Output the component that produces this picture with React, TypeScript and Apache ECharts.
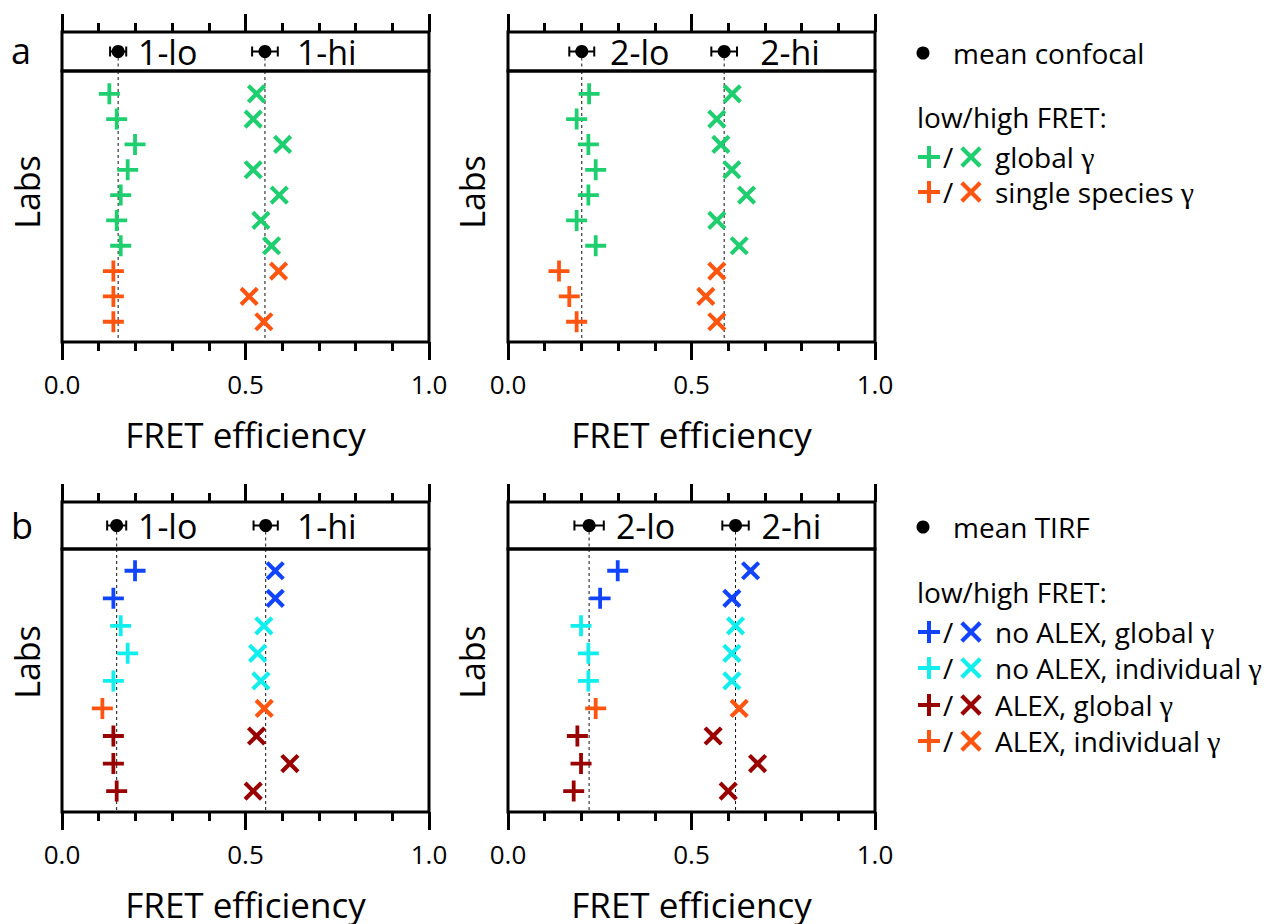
import React, { useEffect, useRef } from "react";
import * as echarts from "echarts";

// ---------- data ----------
const xTicks = ["0.0", "0.5", "1.0"];

// panel a (confocal): 10 labs
const aRowTypes = ["g", "g", "g", "g", "g", "g", "g", "s", "s", "s"];
const a1Lo = [0.129, 0.149, 0.199, 0.179, 0.16, 0.149, 0.16, 0.14, 0.14, 0.14];
const a1Hi = [0.53, 0.521, 0.601, 0.521, 0.592, 0.542, 0.571, 0.59, 0.51, 0.55];
const a2Lo = [0.221, 0.187, 0.219, 0.239, 0.219, 0.187, 0.239, 0.139, 0.167, 0.187];
const a2Hi = [0.611, 0.569, 0.58, 0.61, 0.65, 0.569, 0.63, 0.569, 0.539, 0.569];

// panel b (TIRF): 9 labs
const bRowTypes = ["nb", "nb", "ni", "ni", "ni", "ai", "ag", "ag", "ag"];
const b1Lo = [0.199, 0.14, 0.16, 0.179, 0.14, 0.11, 0.14, 0.14, 0.149];
const b1Hi = [0.581, 0.581, 0.55, 0.533, 0.542, 0.551, 0.53, 0.621, 0.521];
const b2Lo = [0.299, 0.251, 0.199, 0.219, 0.219, 0.239, 0.189, 0.199, 0.179];
const b2Hi = [0.661, 0.61, 0.62, 0.61, 0.61, 0.63, 0.559, 0.68, 0.6];

// means with errors
const a1Means = [0.153, 0.553];
const a1Errs = [0.022, 0.035];
const a2Means = [0.201, 0.589];
const a2Errs = [0.034, 0.035];
const b1Means = [0.149, 0.555];
const b1Errs = [0.026, 0.033];
const b2Means = [0.221, 0.62];
const b2Errs = [0.04, 0.036];

const names1 = ["1-lo", "1-hi"];
const names2 = ["2-lo", "2-hi"];
const a1LabelX = [0.207, 0.64];
const a2LabelX = [0.278, 0.687];
const b1LabelX = [0.207, 0.64];
const b2LabelX = [0.294, 0.691];

const typeColors: Record<string, string> = {
  g: "#1fcf6f",
  s: "#ff5511",
  nb: "#1144ff",
  ni: "#11eeee",
  ag: "#990000",
  ai: "#ff5511",
};

const legendA = [
  { t: "g", text: "global " },
  { t: "s", text: "single species " },
];
const legendB = [
  { t: "nb", text: "no ALEX, global " },
  { t: "ni", text: "no ALEX, individual " },
  { t: "ag", text: "ALEX, global " },
  { t: "ai", text: "ALEX, individual " },
];

// ---------- styling ----------
const FONT = "'Open Sans', 'Noto Sans', sans-serif";
const SERIF = "'Liberation Serif', 'DejaVu Serif', serif";
const PLUS =
  "path://M-1.8,-10L1.8,-10L1.8,-1.8L10,-1.8L10,1.8L1.8,1.8L1.8,10L-1.8,10L-1.8,1.8L-10,1.8L-10,-1.8L-1.8,-1.8Z";

const PANEL_W = 367;
const lefts = [62, 508];

function makeXAxis(gridIndex: number, main: boolean) {
  return {
    type: "value",
    gridIndex,
    min: 0,
    max: 1,
    interval: 0.5,
    position: main ? "bottom" : "top",
    axisLine: { show: false, onZero: false },
    axisTick: { show: true, inside: false, length: 18, lineStyle: { color: "#000", width: 3 } },
    minorTick: { show: true, splitNumber: 5, length: 9, lineStyle: { color: "#000", width: 3 } },
    splitLine: { show: false },
    minorSplitLine: { show: false },
    axisLabel: main
      ? {
          show: true,
          margin: 29,
          fontSize: 26,
          fontFamily: FONT,
          color: "#000",
          formatter: (v: number) => xTicks[Math.round(v * 2)] ?? "",
        }
      : { show: false },
    name: main ? "FRET efficiency" : "",
    nameLocation: "middle",
    nameGap: 75,
    nameTextStyle: { fontSize: 35, fontFamily: FONT, color: "#000" },
  };
}

function panelSeries(
  gStrip: number,
  gMain: number,
  means: number[],
  errs: number[],
  names: string[],
  labelX: number[],
  lo: number[],
  hi: number[],
  types: string[],
  rowMin: number,
  rowMax: number
) {
  const series: any[] = [];
  const axS = { xAxisIndex: gStrip, yAxisIndex: gStrip };
  const axM = { xAxisIndex: gMain, yAxisIndex: gMain };
  means.forEach((m) => {
    series.push({
      type: "line",
      ...axS,
      data: [
        [m, 0.5],
        [m, 0],
      ],
      symbol: "none",
      lineStyle: { color: "#111", width: 1, type: [3, 3] },
      z: 1,
      silent: true,
    });
    series.push({
      type: "line",
      ...axM,
      data: [
        [m, rowMin],
        [m, rowMax],
      ],
      symbol: "none",
      lineStyle: { color: "#111", width: 1, type: [3, 3] },
      z: 1,
      silent: true,
    });
  });
  // error bars
  series.push({
    type: "custom",
    ...axS,
    data: means.map((m, i) => [m, errs[i]]),
    renderItem: (params: any, api: any) => {
      const x = api.value(0);
      const e = api.value(1);
      const l = api.coord([x - e, 0.5]);
      const r = api.coord([x + e, 0.5]);
      const st = { stroke: "#000", lineWidth: 2 };
      return {
        type: "group",
        children: [
          { type: "line", shape: { x1: l[0], y1: l[1], x2: r[0], y2: r[1] }, style: st },
          { type: "line", shape: { x1: l[0], y1: l[1] - 5, x2: l[0], y2: l[1] + 5 }, style: st },
          { type: "line", shape: { x1: r[0], y1: r[1] - 5, x2: r[0], y2: r[1] + 5 }, style: st },
        ],
      };
    },
    z: 3,
  });
  series.push({
    type: "scatter",
    ...axS,
    data: means.map((m) => [m, 0.5]),
    symbol: "circle",
    symbolSize: 13,
    itemStyle: { color: "#000", opacity: 1 },
    z: 4,
  });
  // strip labels
  series.push({
    type: "custom",
    ...axS,
    data: labelX.map((x, i) => [x, 0.5, i]),
    renderItem: (params: any, api: any) => {
      const p = api.coord([api.value(0), api.value(1)]);
      return {
        type: "text",
        x: p[0],
        y: p[1],
        style: {
          text: names[api.value(2)],
          fontSize: 34,
          fontFamily: FONT,
          fill: "#000",
          align: "left",
          verticalAlign: "middle",
        },
      };
    },
    z: 4,
  });
  // markers grouped by type
  const uniq = Array.from(new Set(types));
  uniq.forEach((t) => {
    const loData: number[][] = [];
    const hiData: number[][] = [];
    types.forEach((tt, i) => {
      if (tt === t) {
        loData.push([lo[i], i + 1]);
        hiData.push([hi[i], i + 1]);
      }
    });
    series.push({
      type: "scatter",
      ...axM,
      data: loData,
      symbol: PLUS,
      symbolSize: 21,
      itemStyle: { color: typeColors[t], opacity: 1 },
      z: 5,
    });
    series.push({
      type: "scatter",
      ...axM,
      data: hiData,
      symbol: PLUS,
      symbolSize: 23,
      symbolRotate: 45,
      itemStyle: { color: typeColors[t], opacity: 1 },
      z: 5,
    });
  });
  return series;
}

function plusShape(cx: number, cy: number, color: string) {
  return {
    type: "group",
    x: cx,
    y: cy,
    children: [
      { type: "rect", shape: { x: -11, y: -2, width: 22, height: 4 }, style: { fill: color } },
      { type: "rect", shape: { x: -2, y: -11, width: 4, height: 22 }, style: { fill: color } },
    ],
  };
}
function crossShape(cx: number, cy: number, color: string) {
  return {
    type: "group",
    x: cx,
    y: cy,
    rotation: Math.PI / 4,
    children: [
      { type: "rect", shape: { x: -13, y: -2.1, width: 26, height: 4.2 }, style: { fill: color } },
      { type: "rect", shape: { x: -2.1, y: -13, width: 4.2, height: 26 }, style: { fill: color } },
    ],
  };
}
function txt(x: number, y: number, text: string, fontSize: number, extra: any = {}) {
  return {
    type: "text",
    x,
    y,
    style: {
      text,
      fontSize,
      fontFamily: FONT,
      fill: "#000",
      align: "left",
      verticalAlign: "middle",
      ...extra,
    },
  };
}

function legendBlock(y0: number, title: string, fretY: number, rowYs: number[], items: { t: string; text: string }[]) {
  const els: any[] = [];
  els.push({ type: "circle", shape: { cx: 923, cy: y0, r: 6.5 }, style: { fill: "#000" } });
  els.push(txt(953, y0, title, 28));
  els.push(txt(917, fretY, "low/high FRET:", 28));
  items.forEach((it, i) => {
    const y = rowYs[i];
    const c = typeColors[it.t];
    els.push(plusShape(929, y, c));
    els.push(txt(943, y, "/", 28));
    els.push(crossShape(971, y, c));
    els.push({
      type: "text",
      x: 995,
      y,
      style: {
        text: `{n|${it.text}}{g|γ}`,
        verticalAlign: "middle",
        align: "left",
        rich: {
          n: { fontSize: 28, fontFamily: FONT, fill: "#000" },
          g: { fontSize: 30, fontFamily: SERIF, fill: "#000" },
        },
      },
    });
  });
  return els;
}

export default function App() {
  const ref = useRef<HTMLDivElement>(null);
  useEffect(() => {
    document.body.style.margin = "0";
    if (!ref.current) return;
    const chart = echarts.init(ref.current, null, { renderer: "svg" });

    const panels = [
      { left: lefts[0], stripTop: 32, stripH: 39, mainH: 271 },
      { left: lefts[1], stripTop: 32, stripH: 39, mainH: 271 },
      { left: lefts[0], stripTop: 502, stripH: 47, mainH: 263 },
      { left: lefts[1], stripTop: 502, stripH: 47, mainH: 263 },
    ];
    const rowRanges = [
      [0.1, 10.8],
      [0.1, 10.8],
      [0.21, 9.76],
      [0.21, 9.76],
    ];
    const grids: any[] = [];
    const xAxes: any[] = [];
    const yAxes: any[] = [];
    panels.forEach((p, k) => {
      const gStrip = k * 2;
      const gMain = k * 2 + 1;
      grids.push({
        left: p.left,
        top: p.stripTop,
        width: PANEL_W,
        height: p.stripH,
        show: true,
        borderColor: "#000",
        borderWidth: 3,
        backgroundColor: "transparent",
      });
      grids.push({
        left: p.left,
        top: p.stripTop + p.stripH,
        width: PANEL_W,
        height: p.mainH,
        show: true,
        borderColor: "#000",
        borderWidth: 3,
        backgroundColor: "transparent",
      });
      xAxes.push(makeXAxis(gStrip, false));
      xAxes.push(makeXAxis(gMain, true));
      yAxes.push({ type: "value", gridIndex: gStrip, min: 0, max: 1, show: false });
      yAxes.push({
        type: "value",
        gridIndex: gMain,
        min: rowRanges[k][0],
        max: rowRanges[k][1],
        inverse: true,
        show: false,
      });
    });

    const series = [
      ...panelSeries(0, 1, a1Means, a1Errs, names1, a1LabelX, a1Lo, a1Hi, aRowTypes, 0.1, 10.8),
      ...panelSeries(2, 3, a2Means, a2Errs, names2, a2LabelX, a2Lo, a2Hi, aRowTypes, 0.1, 10.8),
      ...panelSeries(4, 5, b1Means, b1Errs, names1, b1LabelX, b1Lo, b1Hi, bRowTypes, 0.21, 9.76),
      ...panelSeries(6, 7, b2Means, b2Errs, names2, b2LabelX, b2Lo, b2Hi, bRowTypes, 0.21, 9.76),
    ];

    const labsEls = [
      [27, 192],
      [472, 192],
      [27, 662],
      [472, 662],
    ].map(([x, y]) => ({
      type: "text",
      x,
      y,
      rotation: Math.PI / 2,
      style: {
        text: "Labs",
        fontSize: 34,
        fontFamily: FONT,
        fill: "#000",
        align: "center",
        verticalAlign: "middle",
      },
    }));

    const graphic = [
      txt(11, 50, "a", 36),
      txt(11, 525, "b", 36),
      ...labsEls,
      ...legendBlock(53, "mean confocal", 117, [157, 192], legendA),
      ...legendBlock(527, "mean TIRF", 592, [632, 668, 705, 741], legendB),
    ];

    chart.setOption({
      animation: false,
      backgroundColor: "#fff",
      grid: grids,
      xAxis: xAxes,
      yAxis: yAxes,
      series,
      graphic,
    });
    return () => chart.dispose();
  }, []);
  return <div ref={ref} style={{ width: 1267, height: 924 }} />;
}
